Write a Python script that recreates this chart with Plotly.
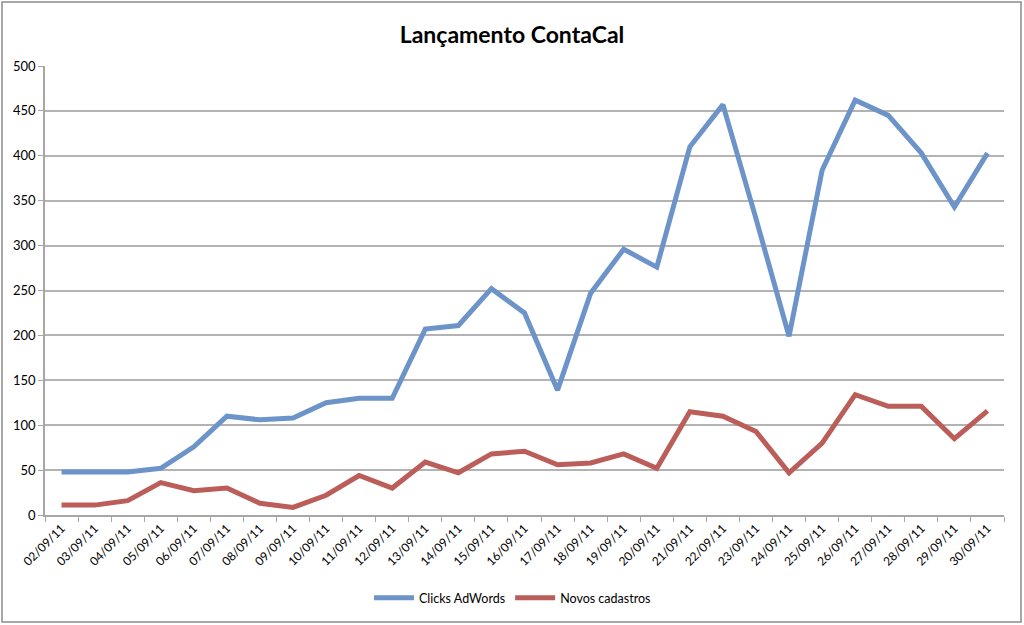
import plotly.graph_objects as go

dates = ['%02d/09/11' % d for d in range(2, 31)]
clicks = [48, 48, 48, 52, 76, 110, 106, 108, 125, 130, 130, 207, 211, 252, 225,
          139, 247, 296, 276, 410, 457, 330, 199, 384, 462, 445, 403, 343, 403]
cadastros = [11, 11, 16, 36, 27, 30, 13, 8.5, 22, 44, 30, 59, 47, 68, 71,
             56, 58, 68, 52, 115, 110, 93, 47, 80, 134, 121, 121, 85, 116]

fig = go.Figure()
fig.add_trace(go.Scatter(x=dates, y=clicks, name='Clicks AdWords', mode='lines',
                         line=dict(color='#6d94c9', width=5)))
fig.add_trace(go.Scatter(x=dates, y=cadastros, name='Novos cadastros', mode='lines',
                         line=dict(color='#bb5d58', width=5)))

W, H = 1024, 625
L, R, T, B = 45, 20, 66, 110
pw, ph = W - L - R, H - T - B

fig.update_layout(
    width=W, height=H,
    margin=dict(l=L, r=R, t=T, b=B, autoexpand=False),
    paper_bgcolor='white', plot_bgcolor='white',
    font=dict(family='Lato, Open Sans, sans-serif', color='black'),
    title=dict(text='<b>Lançamento ContaCal</b>', x=0.5, xanchor='center',
               y=1 - 35 / H, yanchor='middle', font=dict(size=23)),
    showlegend=True,
    legend=dict(orientation='h', x=0.5 - 12 / pw, xanchor='center', y=(515 - 598) / ph,
                yanchor='middle', font=dict(size=12.5), itemwidth=40),
    xaxis=dict(type='category', tickangle=-45, tickfont=dict(size=12),
               range=[-0.5, len(dates) - 0.5], automargin=False,
               showline=True, linecolor='#a6a6a6', linewidth=1.5,
               ticks='outside', tickson='boundaries', ticklen=5, tickcolor='#a6a6a6',
               showgrid=False, zeroline=False),
    yaxis=dict(range=[0, 500], dtick=50, tickfont=dict(size=13), automargin=False,
               showline=True, linecolor='#a6a6a6', linewidth=1.5,
               ticks='outside', ticklen=5, tickcolor='#a6a6a6',
               showgrid=True, gridcolor='#b3b3b3', gridwidth=1.5, zeroline=False),
)

# outer frame around the whole chart
fig.add_shape(type='rect', xref='paper', yref='paper', layer='below',
              x0=(2 - L) / pw, x1=(1021 - L) / pw,
              y0=(H - B - 622) / ph, y1=(H - B - 2) / ph,
              line=dict(color='#8c8c8c', width=1.5))

# drop the browser's default page margin so the chart sits at 0,0
fig.write_html('out.html', config={'displayModeBar': False},
               post_script="document.body.style.margin='0';document.body.style.overflow='hidden';")
